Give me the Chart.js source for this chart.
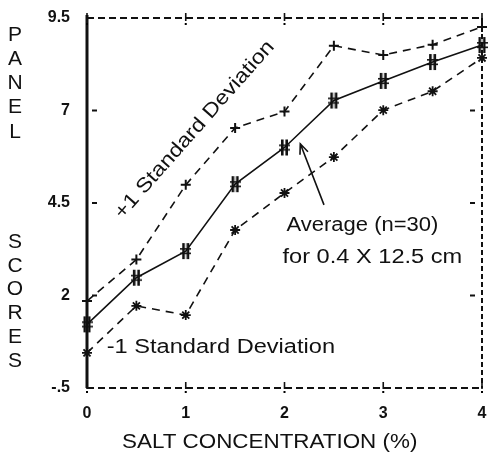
<!DOCTYPE html>
<html>
<head>
<meta charset="utf-8">
<script src="https://cdn.jsdelivr.net/npm/chart.js@4.4.1/dist/chart.umd.min.js"></script>
<style>
  html, body { margin: 0; padding: 0; background: #fff; }
  #wrap { width: 489px; height: 464px; }
</style>
</head>
<body>
<div id="wrap"><canvas id="salt-chart"></canvas></div>
<script>
// salt concentration (%) on x
const concentration = [0, 0.5, 1, 1.5, 2, 2.5, 3, 3.5, 4];
// panel scores
const average = [1.22, 2.48, 3.2, 5.01, 6.0, 7.27, 7.8, 8.31, 8.77];
const plusOneSD = [1.85, 2.97, 4.99, 6.53, 6.97, 8.75, 8.5, 8.78, 9.26];
const minusOneSD = [0.45, 1.72, 1.47, 3.77, 4.77, 5.74, 7.01, 7.52, 8.42];
const yTicks = [-0.5, 2, 4.5, 7, 9.5];
const xTicks = [0, 1, 2, 3, 4];

const TEXT_FONT = '"Liberation Sans", Arial, sans-serif';
const TICK_FONT = '"Liberation Sans Narrow", "Liberation Sans", sans-serif';

// '#' style marker for the average line
function hashMarker() {
    const c = document.createElement('canvas');
    c.width = 11; c.height = 18;
    const g = c.getContext('2d');
    g.fillStyle = '#111';
    g.fillRect(2, 1, 2.6, 16);
    g.fillRect(6.4, 1, 2.6, 16);
    g.fillRect(0, 6, 11, 1.6);
    g.fillRect(0, 10.5, 11, 1.6);
    return c;
}

function pts(ys) {
    return concentration.map((x, i) => ({ x, y: ys[i] }));
}

function txt(ctx, str, x, y, size, sx, angle) {
    ctx.save();
    ctx.translate(x, y);
    if (angle) ctx.rotate(angle);
    ctx.scale(sx, 1);
    ctx.font = size + 'px ' + TEXT_FONT;
    ctx.fillStyle = '#111';
    ctx.textAlign = 'left';
    ctx.textBaseline = 'alphabetic';
    ctx.fillText(str, 0, 0);
    ctx.restore();
}

const framePlugin = {
    id: 'frame',
    beforeDatasetsDraw(chart) {
        const { ctx, chartArea: a, scales: { x, y } } = chart;
        ctx.save();
        ctx.strokeStyle = '#111';
        // dashed top, bottom, right
        ctx.lineWidth = 2;
        ctx.setLineDash([7, 4]);
        ctx.beginPath();
        ctx.moveTo(a.left, a.top); ctx.lineTo(a.right, a.top);
        ctx.moveTo(a.left, a.bottom); ctx.lineTo(a.right, a.bottom);
        ctx.stroke();
        ctx.setLineDash([5, 3]);
        ctx.beginPath();
        ctx.moveTo(a.right, a.top); ctx.lineTo(a.right, a.bottom);
        ctx.stroke();
        ctx.setLineDash([]);
        // solid left axis
        ctx.lineWidth = 3;
        ctx.beginPath();
        ctx.moveTo(a.left, a.top - 3); ctx.lineTo(a.left, a.bottom);
        ctx.stroke();
        // "!" ticks on top and bottom
        ctx.lineWidth = 1.6;
        xTicks.forEach(v => {
            const px = x.getPixelForValue(v);
            ctx.beginPath();
            ctx.moveTo(px, a.top - 5); ctx.lineTo(px, a.top + 3);
            ctx.moveTo(px, a.bottom - 6); ctx.lineTo(px, a.bottom + 1);
            ctx.stroke();
            ctx.fillRect(px - 1, a.top + 5, 2, 2);
            ctx.fillRect(px - 1, a.bottom + 3, 2, 2);
        });
        // "-" ticks inside left and right
        ctx.lineWidth = 2;
        yTicks.slice(1, -1).forEach(v => {
            const py = y.getPixelForValue(v);
            ctx.beginPath();
            ctx.moveTo(a.left + 5, py); ctx.lineTo(a.left + 10, py);
            ctx.moveTo(a.right - 12, py); ctx.lineTo(a.right - 7, py);
            ctx.stroke();
        });
        ctx.restore();
    },
    afterDraw(chart) {
        const { ctx, scales: { x, y } } = chart;
        // y title as stacked letters
        ctx.save();
        ctx.font = '21px ' + TEXT_FONT;
        ctx.fillStyle = '#111';
        ctx.textAlign = 'center';
        ctx.textBaseline = 'middle';
        const top = ['P', 'A', 'N', 'E', 'L'];
        const bot = ['S', 'C', 'O', 'R', 'E', 'S'];
        top.forEach((ch, i) => ctx.fillText(ch, 15, 35 + i * 24.2));
        bot.forEach((ch, i) => ctx.fillText(ch, 15, 242 + i * 23.8));
        ctx.restore();

        // x title
        txt(ctx, 'SALT CONCENTRATION (%)', 122, 448, 20, 1.12, 0);

        // annotations
        txt(ctx, '+1 Standard Deviation', x.getPixelForValue(0.36), y.getPixelForValue(4.05), 20, 1.16, -48.5 * Math.PI / 180);
        txt(ctx, 'Average (n=30)', x.getPixelForValue(2.02), y.getPixelForValue(3.74), 20, 1.1, 0);
        txt(ctx, 'for 0.4 X 12.5 cm', x.getPixelForValue(1.98), y.getPixelForValue(2.88), 20, 1.18, 0);
        txt(ctx, '-1 Standard Deviation', x.getPixelForValue(0.2), y.getPixelForValue(0.45), 20, 1.18, 0);

        // arrow to the average line
        const tx = x.getPixelForValue(2.4), ty = y.getPixelForValue(4.45);
        const hx = x.getPixelForValue(2.16), hy = y.getPixelForValue(6.1);
        const ang = Math.atan2(hy - ty, hx - tx);
        ctx.save();
        ctx.strokeStyle = '#111';
        ctx.lineWidth = 1.6;
        ctx.beginPath();
        ctx.moveTo(tx, ty); ctx.lineTo(hx, hy);
        ctx.moveTo(hx - 11 * Math.cos(ang - 0.4), hy - 11 * Math.sin(ang - 0.4));
        ctx.lineTo(hx, hy);
        ctx.lineTo(hx - 11 * Math.cos(ang + 0.4), hy - 11 * Math.sin(ang + 0.4));
        ctx.stroke();
        ctx.restore();
    }
};

const config = {
    type: 'scatter',
    data: {
        datasets: [
            {
                label: '+1 Standard Deviation',
                data: pts(plusOneSD),
                showLine: true,
                borderColor: '#111',
                borderWidth: 1.6,
                borderDash: [8, 6],
                pointStyle: 'cross',
                pointRadius: 5,
                pointBorderWidth: 2,
                pointBorderColor: '#111',
                clip: false,
            },
            {
                label: 'Average (n=30)',
                data: pts(average),
                showLine: true,
                borderColor: '#111',
                borderWidth: 1.6,
                pointStyle: hashMarker(),
                clip: false,
            },
            {
                label: '-1 Standard Deviation',
                data: pts(minusOneSD),
                showLine: true,
                borderColor: '#111',
                borderWidth: 1.6,
                borderDash: [8, 6],
                pointStyle: 'star',
                pointRadius: 5,
                pointBorderWidth: 1.8,
                pointBorderColor: '#111',
                clip: false,
            },
        ],
    },
    options: {
        responsive: true,
        maintainAspectRatio: false,
        animation: false,
        layout: { padding: { top: 18, right: 6, left: 0, bottom: 0 } },
        plugins: {
            legend: { display: false },
            tooltip: { enabled: false },
        },
        scales: {
            x: {
                type: 'linear',
                min: 0,
                max: 4,
                afterBuildTicks: s => { s.ticks = xTicks.map(v => ({ value: v })); },
                afterFit: s => { s.height = 76; s.paddingLeft = 0; s.paddingRight = 0; },
                grid: { display: false, drawTicks: false },
                border: { display: false },
                ticks: {
                    padding: 16,
                    color: '#111',
                    font: { family: TICK_FONT, size: 16, weight: 'bold' },
                },
            },
            y: {
                type: 'linear',
                min: -0.5,
                max: 9.5,
                afterBuildTicks: s => { s.ticks = yTicks.map(v => ({ value: v })); },
                afterFit: s => { s.width = 87; s.paddingTop = 0; s.paddingBottom = 0; },
                grid: { display: false, drawTicks: false },
                border: { display: false },
                ticks: {
                    padding: 17,
                    color: '#111',
                    font: { family: TICK_FONT, size: 16, weight: 'bold' },
                    callback: v => (v === -0.5 ? '-.5' : String(v)),
                },
            },
        },
    },
    plugins: [framePlugin],
};

const saltChart = new Chart(document.getElementById('salt-chart'), config);
</script>
</body>
</html>
